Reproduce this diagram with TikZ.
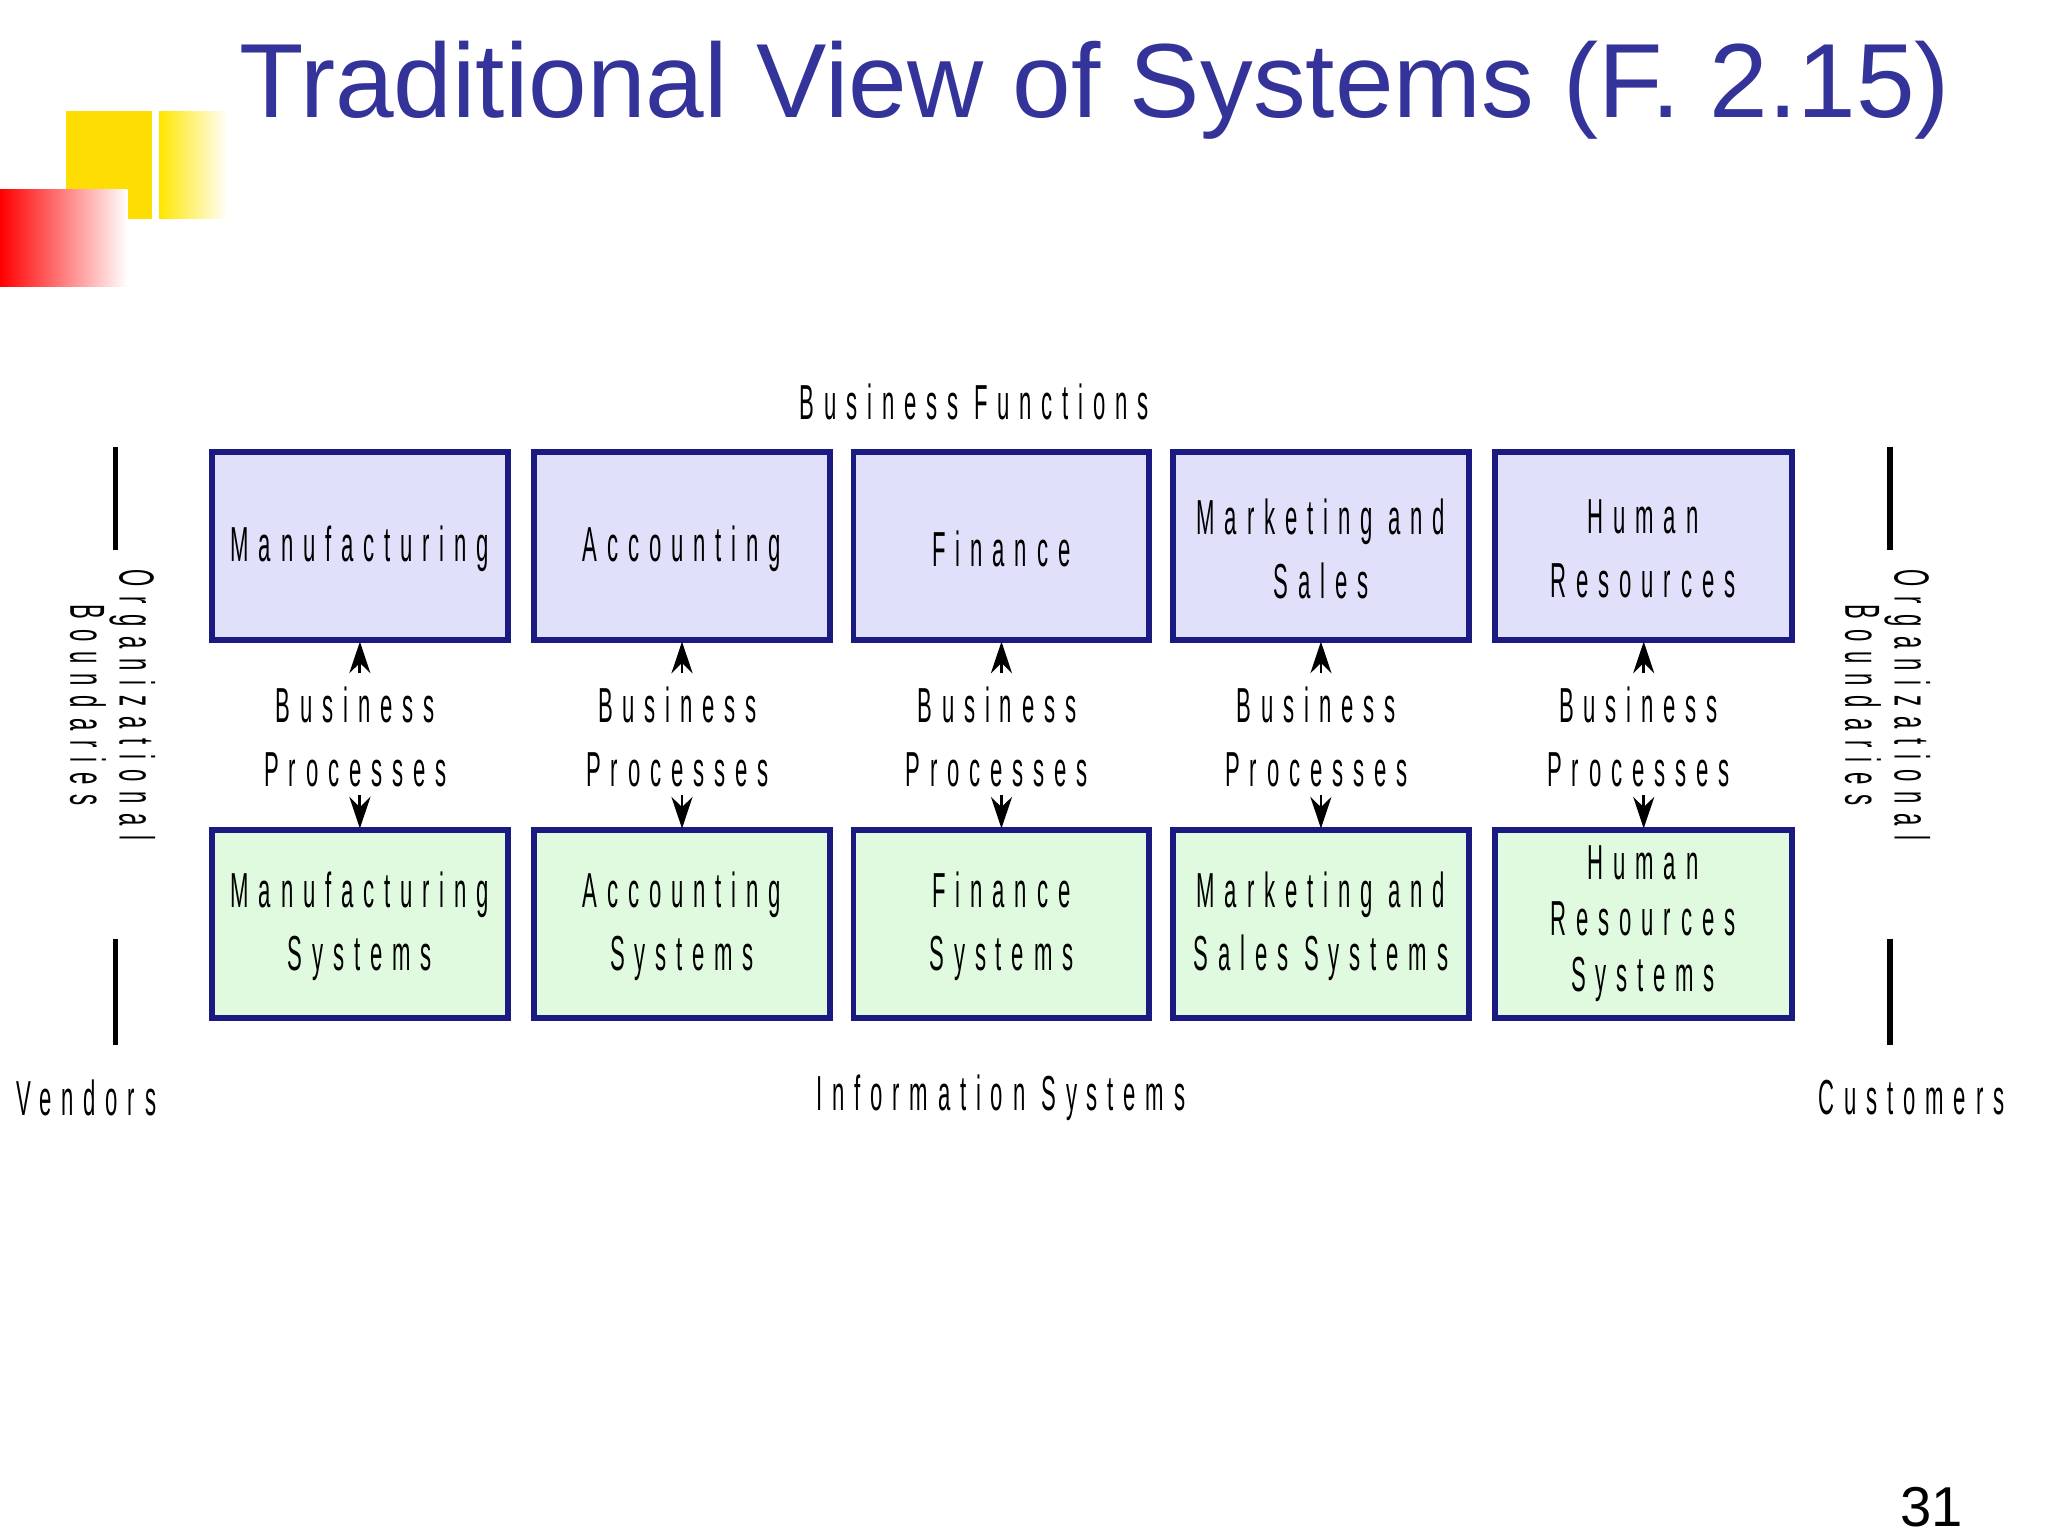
\documentclass[tikz,border=0pt]{standalone}
\usepackage{fontspec}
\setmainfont{Liberation Sans}
\newfontfamily\nar{Liberation Sans}[FakeStretch=0.45,LetterSpace=20]
\usetikzlibrary{arrows.meta}
\definecolor{navy}{HTML}{1A1A80}
\definecolor{ttl}{HTML}{33339A}
\definecolor{fb}{HTML}{E0E0FA}
\definecolor{fg}{HTML}{E0FAE0}
\begin{document}
\begin{tikzpicture}[x=0.013256cm,y=-0.013256cm,
 lbl/.style={font=\nar\fontsize{14}{18}\selectfont,align=center,inner sep=0pt},
 arr/.style={-{Stealth[length=9pt,width=6pt]},line width=0.8pt}]
\useasboundingbox (0,0) rectangle (1545,1159);
\fill[white] (0,0) rectangle (1545,1159);
\fill[yellow!80!orange] (50,84) rectangle (115,165);
\shade[left color=yellow!80!orange,right color=white] (120,84) rectangle (172,165);
\shade[left color=red,right color=white] (0,143) rectangle (96,216);
\node[text=ttl,font=\fontsize{30}{34}\selectfont,anchor=center] (title) at (826,68) {Traditional View of Systems (F. 2.15)};
\node[lbl] (bf) at (735,303) {Business Functions};
\foreach \i/\x/\t/\b in {1/160/Manufacturing/Manufacturing\\Systems,
 2/403/Accounting/Accounting\\Systems,
 3/644/Finance/Finance\\Systems,
 4/885/Marketing and\\Sales/Marketing and\\Sales Systems}{
 \fill[fb,draw=navy,line width=1.6pt] (\x,341) rectangle ++(223,142);
 \node[lbl] (t\i) at (\x+111.5,414) {\t};
 \fill[fg,draw=navy,line width=1.6pt] (\x,626) rectangle ++(223,142);
 \node[lbl] (b\i) at (\x+111.5,699) {\b};
 \node[lbl] (p\i) at (\x+108,556) {Business\\Processes};
 \coordinate (u\i) at (\x+111.5,508);
 \coordinate (ut\i) at (\x+111.5,484);
 \coordinate (d\i) at (\x+111.5,600);
 \coordinate (db\i) at (\x+111.5,625);
 \draw[arr] (u\i) -- (ut\i);
 \draw[arr] (d\i) -- (db\i);
}
\fill[fb,draw=navy,line width=1.6pt] (1128,341) rectangle ++(224,142);
\node[lbl] (t5) at (1239.5,414) {Human\\Resources};
\fill[fg,draw=navy,line width=1.6pt] (1128,626) rectangle ++(224,142);
\node[lbl,font=\nar\fontsize{14}{16}\selectfont] (b5) at (1239.5,697) {Human\\Resources\\Systems};
\node[lbl] (p5) at (1236,556) {Business\\Processes};
\coordinate (u5) at (1240,508);
\coordinate (ut5) at (1240,484);
\coordinate (d5) at (1240,600);
\coordinate (db5) at (1240,625);
\draw[arr] (u5) -- (ut5);
\draw[arr] (d5) -- (db5);
\foreach \x/\n in {87/l,1426/r}{
 \draw[line width=1.6pt] (\x,337) -- (\x,415);
 \draw[line width=1.6pt] (\x,708) -- (\x,788);
 \node[lbl,rotate=-90,font=\nar\fontsize{14}{14}\selectfont] (ob\n) at (\x-2,532) {Organizational\\Boundaries};
}
\node[lbl] (v) at (65,828) {Vendors};
\node[lbl] (is) at (755,828) {Information Systems};
\node[lbl] (c) at (1442,828) {Customers};
\node[font=\fontsize{16}{20}\selectfont] (pg) at (1457,1137) {31};
\end{tikzpicture}
\end{document}
